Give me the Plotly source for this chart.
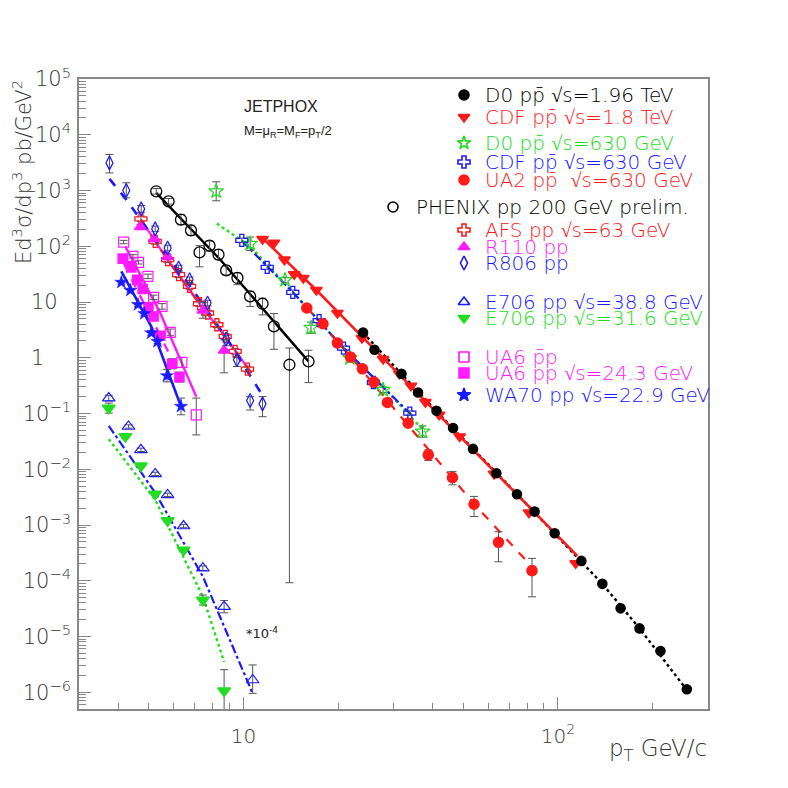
import plotly.graph_objects as go

# ------------------------------------------------------------------ data
# D0 p pbar sqrt(s)=1.96 TeV
d0_196_pt = [24.0, 26.1, 31.8, 35.9, 41.1, 46.4, 53.7, 63.7, 74.1, 84.3, 97.6, 118.7, 138.4, 158.2, 181.7, 211.8, 256.9]
d0_196_xs = [2.84, 1.39, 0.516, 0.238, 0.112, 0.0547, 0.0232, 0.0085, 0.00357, 0.00174, 7.1e-4, 2.27e-4, 8.8e-5, 3.2e-5, 1.40e-5, 5.5e-6, 1.13e-6]
th_d0_196_pt = [24.0, 41.1, 74.1, 138.4, 181.7, 256.9]
th_d0_196_xs = [2.8, 0.11, 0.0036, 8.8e-5, 1.4e-5, 1.1e-6]

# CDF p pbar 1.8 TeV
cdf_18_pt = [11.5, 12.5, 13.5, 14.5, 15.5, 17.05, 19.9, 23.8, 27.8, 31.3, 34.1, 37.9, 41.9, 48.7, 62.6, 80.9, 113.8]
cdf_18_xs = [135, 115, 57.5, 31.5, 27, 16.4, 6.35, 2.26, 0.95, 0.516, 0.314, 0.160, 0.0948, 0.0387, 0.00827, 0.00167, 2.06e-4]
th_cdf_18_pt = [11.5, 17.05, 24.0, 48.7, 115.2]
th_cdf_18_xs = [140, 16.4, 2.3, 0.04, 2.8e-4]

# D0 p pbar 630 GeV
d0_630_pt = [8.19, 10.5, 13.56, 16.4, 21.8, 27.8, 37.1]
d0_630_xs = [968, 111, 24.8, 3.46, 0.99, 0.266, 0.0475]
d0_630_eu = [0.17, 0.12, 0.05, 0.10, 0.05, 0.05, 0.10]
d0_630_ed = [0.17, 0.12, 0.05, 0.10, 0.05, 0.05, 0.10]
th_d0_630_pt = [8.23, 10.5, 14.35, 20.8, 27.8, 37.7]
th_d0_630_xs = [255, 100, 15, 1.5, 0.3, 0.047]

# CDF p pbar 630 GeV
cdf_630_pt = [9.88, 11.9, 14.35, 17.4, 20.8, 25.9, 33.8]
cdf_630_xs = [128, 41.8, 14.9, 4.62, 1.49, 0.36, 0.1016]
th_cdf_630_pt = [9.88, 14.35, 20.8, 34.5]
th_cdf_630_xs = [125, 15, 1.5, 0.09]

# UA2 p pbar 630 GeV
ua2_pt = [15.9, 17.9, 19.9, 21.9, 23.9, 26.0, 28.7, 33.4, 38.7, 46.2, 54.1, 64.7, 82.7]
ua2_xs = [7.8, 4.07, 1.84, 1.03, 0.634, 0.366, 0.158, 0.0673, 0.0181, 0.0071, 0.00236, 4.9e-4, 1.52e-4]
ua2_eu = [0, 0, 0, 0, 0, 0, 0, 0, 0.09, 0.11, 0.14, 0.19, 0.22]
ua2_ed = [0, 0, 0, 0, 0, 0, 0, 0, 0.10, 0.13, 0.22, 0.35, 0.47]
th_ua2_pt = [15.9, 21.9, 28.7, 38.7, 54.1, 81.7]
th_ua2_xs = [8.0, 1.05, 0.17, 0.0223, 0.0024, 1.92e-4]

# PHENIX pp 200 GeV prelim.
phenix_pt = [5.28, 5.78, 6.33, 6.81, 7.25, 7.80, 8.33, 8.81, 9.57, 10.5, 11.5, 12.5, 14.0, 16.1]
phenix_xs = [968, 640, 300, 193, 77.8, 102.6, 70.6, 36.9, 27, 12.6, 9.3, 3.65, 0.75, 0.86]
phenix_eu = [0.05, 0.05, 0.09, 0.09, 0.12, 0.08, 0.09, 0.08, 0.09, 0.09, 0.10, 0.23, 0.30, 0.20]
phenix_ed = [0.05, 0.05, 0.09, 0.09, 0.26, 0.10, 0.09, 0.08, 0.12, 0.18, 0.20, 0.41, 3.91, 0.38]
th_phenix_pt = [5.28, 8.44, 16.1]
th_phenix_xs = [906, 57.4, 0.86]

# AFS pp 63 GeV
afs_pt = [4.72, 5.24, 5.74, 6.22, 6.74, 7.25, 7.69, 8.23, 8.75, 9.41, 10.3]
afs_xs = [309, 122, 57.4, 30.9, 19.1, 9.3, 6.35, 3.91, 2.41, 1.30, 0.627]
th_afs_pt = [4.72, 5.74, 7.25, 8.75, 10.6]
th_afs_xs = [300, 57, 9.3, 2.4, 0.53]

# R110 pp
r110_pt = [4.70, 5.20, 5.74, 7.43, 8.68]
r110_xs = [222, 135, 64.3, 7.06, 1.35]
r110_eu = [0.04, 0.04, 0.05, 0.14, 0.19]
r110_ed = [0.04, 0.04, 0.05, 0.14, 0.40]

# R806 pp
r806_pt = [3.75, 4.24, 4.73, 5.24, 5.74, 6.22, 6.74, 7.69, 8.81, 9.53, 10.5, 11.5]
r806_xs = [3130, 996, 468, 205, 93, 40.7, 25.1, 9.6, 2.17, 0.92, 0.171, 0.149]
r806_eu = [0.15, 0.14, 0.06, 0.05, 0.05, 0.05, 0.05, 0.05, 0.06, 0.06, 0.07, 0.13]
r806_ed = [0.18, 0.13, 0.06, 0.05, 0.05, 0.05, 0.05, 0.05, 0.12, 0.12, 0.17, 0.23]
th_r806_pt = [3.75, 4.24, 5.24, 6.74, 8.81, 11.57]
th_r806_xs = [1615, 687, 130, 20, 2.3, 0.20]

# E706 pp 38.8 GeV (x 1e-4)
e706_388_pt = [3.73, 4.31, 4.72, 5.24, 5.74, 6.45, 7.43, 8.68, 10.7]
e706_388_xs = [0.189, 0.0585, 0.0223, 0.00826, 0.00347, 9.6e-4, 1.68e-4, 3.43e-5, 1.66e-6]
e706_388_eu = [0.05, 0.03, 0.03, 0.03, 0.03, 0.03, 0.04, 0.11, 0.27]
e706_388_ed = [0.05, 0.03, 0.03, 0.03, 0.03, 0.03, 0.04, 0.11, 0.24]
th_e706_388_pt = [3.73, 5.24, 7.43, 10.7]
th_e706_388_xs = [0.06, 0.0038, 1.19e-4, 9.5e-7]

# E706 pp 31.6 GeV (x 1e-4)
e706_316_pt = [3.73, 4.21, 4.72, 5.24, 5.74, 6.45, 7.43, 8.68]
e706_316_xs = [0.125, 0.0387, 0.0115, 0.00361, 0.0012, 3.57e-4, 4.5e-5, 1.06e-6]
e706_316_eu = [0.09, 0.03, 0.03, 0.03, 0.03, 0.03, 0.09, 0.38]
e706_316_ed = [0.09, 0.03, 0.03, 0.03, 0.03, 0.03, 0.09, 1.00]
th_e706_316_pt = [3.73, 5.24, 7.43, 8.68]
th_e706_316_xs = [0.0347, 0.00283, 5.2e-5, 3.5e-6]

# UA6 pbar p
ua6_pbp_pt = [4.16, 4.45, 4.64, 4.97, 5.18, 5.51, 5.85, 6.37, 7.08]
ua6_pbp_xs = [119, 65.9, 51.4, 28.8, 12.1, 8.34, 2.85, 0.824, 0.0948]
ua6_pbp_eu = [0.03, 0.03, 0.03, 0.04, 0.04, 0.05, 0.06, 0.09, 0.30]
ua6_pbp_ed = [0.03, 0.03, 0.03, 0.04, 0.04, 0.05, 0.06, 0.09, 0.36]
th_ua6_pbp_pt = [4.21, 5.44, 7.08]
th_ua6_pbp_xs = [99.6, 6.35, 0.2]

# UA6 pp 24.3 GeV
ua6_pp_pt = [4.13, 4.40, 4.59, 4.78, 4.99, 5.18, 5.44, 5.93, 6.26]
ua6_pp_xs = [59.9, 41.8, 25.1, 17.1, 8.0, 5.51, 2.48, 0.78, 0.45]
ua6_pp_e = [0.03, 0.03, 0.03, 0.03, 0.04, 0.04, 0.05, 0.09, 0.09]
th_ua6_pp_pt = [4.16, 5.12, 6.33]
th_ua6_pp_xs = [50, 4.8, 0.45]

# WA70 pp 22.9 GeV
wa70_pt = [4.09, 4.37, 4.62, 4.84, 5.09, 5.33, 5.71, 6.33]
wa70_xs = [22.5, 16.2, 8.95, 6.17, 2.78, 1.96, 0.475, 0.134]
wa70_e = [0.03, 0.03, 0.03, 0.03, 0.04, 0.04, 0.11, 0.15]
th_wa70_pt = [4.09, 5.09, 6.33]
th_wa70_xs = [35.4, 3.65, 0.134]

y_tick_vals = [1e-6, 1e-5, 1e-4, 1e-3, 1e-2, 1e-1, 1, 10, 1e2, 1e3, 1e4, 1e5]
y_tick_text = ["10<sup>−6</sup>", "10<sup>−5</sup>", "10<sup>−4</sup>", "10<sup>−3</sup>",
               "10<sup>−2</sup>", "10<sup>−1</sup>", "1\u00a0\u00a0\u00a0\u00a0", "10\u00a0\u00a0",
               "10<sup>2</sup>", "10<sup>3</sup>", "10<sup>4</sup>", "10<sup>5</sup>"]
x_tick_vals = [10, 100]
x_tick_text = ["10", "10<sup>2</sup>"]

# ------------------------------------------------------------------ style / layout geometry
BLACK = "#000000"
RED = "#ff1a1a"
GREEN = "#22dd22"
BLUE = "#1a1aff"
MAG = "#ff1aff"
ERRC = "#555555"
FONT = "DejaVu Sans"
THIN = 300

PAGE_OFF = 8                       # default body margin of the html page
FIG = 772
PLOT_L, PLOT_R, PLOT_T, PLOT_B = 79, 708, 79, 709   # plot area in page pixels
ML = PLOT_L - PAGE_OFF
MT = PLOT_T - PAGE_OFF
MR = FIG - (PLOT_R - PAGE_OFF)
MB = FIG - (PLOT_B - PAGE_OFF)


def px_x(px):
    return (px - PLOT_L) / (PLOT_R - PLOT_L)


def px_y(py):
    return (PLOT_B - py) / (PLOT_B - PLOT_T)


def err_arrays(vals, up, dn):
    plus = [v * (10 ** u - 1) for v, u in zip(vals, up)]
    minus = [v * (1 - 10 ** (-d)) for v, d in zip(vals, dn)]
    return plus, minus


fig = go.Figure()


def theory(xs, ys, color, dash, width=2.2):
    fig.add_trace(go.Scatter(x=xs, y=ys, mode="lines", showlegend=False,
                             line=dict(color=color, dash=dash, width=width),
                             hoverinfo="skip"))


def data(xs, ys, symbol, color, size=10, up=None, dn=None, lw=1.6):
    kw = {}
    if up is not None:
        plus, minus = err_arrays(ys, up, dn if dn is not None else up)
        kw["error_y"] = dict(type="data", symmetric=False, array=plus, arrayminus=minus,
                             color=ERRC, thickness=1, width=4)
    fig.add_trace(go.Scatter(x=xs, y=ys, mode="markers", showlegend=False,
                             marker=dict(symbol=symbol, color=color, size=size,
                                         line=dict(color=color, width=lw)),
                             **kw))


# theory curves
theory(th_d0_196_pt, th_d0_196_xs, BLACK, "dot", 2.4)
theory(th_cdf_18_pt, th_cdf_18_xs, RED, "solid", 2.6)
theory(th_d0_630_pt, th_d0_630_xs, GREEN, "dot", 2.4)
theory(th_cdf_630_pt, th_cdf_630_xs, BLUE, "dashdot", 2.2)
theory(th_ua2_pt, th_ua2_xs, RED, "dash", 2.2)
theory(th_phenix_pt, th_phenix_xs, BLACK, "solid", 2.4)
theory(th_afs_pt, th_afs_xs, MAG, "solid", 2.2)
theory(th_afs_pt, th_afs_xs, RED, "dash", 2.2)
theory(th_r806_pt, th_r806_xs, BLUE, "dash", 2.6)
theory(th_e706_388_pt, th_e706_388_xs, BLUE, "dashdot", 2.2)
theory(th_e706_316_pt, th_e706_316_xs, GREEN, "dot", 2.4)
theory(th_ua6_pbp_pt, th_ua6_pbp_xs, MAG, "solid", 2.4)
theory(th_ua6_pp_pt, th_ua6_pp_xs, MAG, "dash", 2.4)
theory(th_wa70_pt, th_wa70_xs, BLUE, "solid", 2.6)

# data points
data(phenix_pt, phenix_xs, "circle-open", BLACK, 11, phenix_eu, phenix_ed, 1.3)
data(afs_pt, afs_xs, "cross-open", RED, 10, [0.05] * len(afs_pt), None, 1.3)
data(r110_pt, r110_xs, "triangle-up", MAG, 10, r110_eu, r110_ed)
data(r806_pt, r806_xs, "diamond-tall-open", BLUE, 10, r806_eu, r806_ed, 1.2)
data(e706_388_pt, e706_388_xs, "triangle-up-open", BLUE, 11, e706_388_eu, e706_388_ed, 1.2)
data(e706_316_pt, e706_316_xs, "triangle-down", GREEN, 11, e706_316_eu, e706_316_ed)
data(ua6_pbp_pt, ua6_pbp_xs, "square-open", MAG, 10, ua6_pbp_eu, ua6_pbp_ed, 1.2)
data(ua6_pp_pt, ua6_pp_xs, "square", MAG, 9, ua6_pp_e, None)
data(wa70_pt, wa70_xs, "star", BLUE, 10, wa70_e, None, 0.5)
data(d0_630_pt, d0_630_xs, "star-open", GREEN, 11, d0_630_eu, d0_630_ed, 1.2)
data(cdf_630_pt, cdf_630_xs, "cross-open", BLUE, 10, [0.04] * len(cdf_630_pt), None, 1.3)
data(ua2_pt, ua2_xs, "circle", RED, 10, ua2_eu, ua2_ed)
data(cdf_18_pt, cdf_18_xs, "triangle-down", RED, 10)
data(d0_196_pt, d0_196_xs, "circle", BLACK, 9)

# ------------------------------------------------------------------ legend (drawn by hand)
legend_items = [
    ("circle", BLACK, "D0 pp\u0304 \u221as=1.96 TeV", BLACK),
    ("triangle-down", RED, "CDF pp\u0304 \u221as=1.8 TeV", RED),
    ("star-open", GREEN, "D0 pp\u0304 \u221as=630 GeV", GREEN),
    ("cross-open", BLUE, "CDF pp\u0304 \u221as=630 GeV", BLUE),
    ("circle", RED, "UA2 pp\u0304  \u221as=630 GeV", RED),
    ("circle-open", BLACK, "PHENIX pp 200 GeV prelim.", BLACK),
    ("cross-open", RED, "AFS pp \u221as=63 GeV", RED),
    ("triangle-up", MAG, "R110 pp", MAG),
    ("diamond-tall-open", BLUE, "R806 pp", BLUE),
    ("triangle-up-open", BLUE, "E706 pp \u221as=38.8 GeV", BLUE),
    ("triangle-down", GREEN, "E706 pp \u221as=31.6 GeV", GREEN),
    ("square-open", MAG, "UA6 p\u0304p", MAG),
    ("square", MAG, "UA6 pp \u221as=24.3 GeV", MAG),
    ("star", BLUE, "WA70 pp \u221as=22.9 GeV", BLUE),
]
legend_row_py = [95, 117, 143, 162, 180, 207, 230, 247, 263, 302, 318, 357, 373, 395]
legend_marker_px = [464] * 5 + [393] + [464] * 8
legend_text_px = [483] * 5 + [414] + [483] * 8

annotations = []
for (sym, col, txt, tcol), py, mx, tx in zip(legend_items, legend_row_py, legend_marker_px, legend_text_px):
    fig.add_trace(go.Scatter(x=[px_x(mx)], y=[px_y(py)], xaxis="x2", yaxis="y2",
                             mode="markers", showlegend=False, hoverinfo="skip",
                             marker=dict(symbol=sym, color=col, size=10,
                                         line=dict(color=col, width=1.6))))
    annotations.append(dict(x=px_x(tx), y=px_y(py), xref="paper", yref="paper",
                            text=txt, showarrow=False, xanchor="left", yanchor="middle",
                            font=dict(family=FONT, size=20, color=tcol, weight=THIN)))

annotations += [
    dict(x=px_x(242), y=px_y(107), xref="paper", yref="paper", text="JETPHOX",
         showarrow=False, xanchor="left", yanchor="middle",
         font=dict(family="Liberation Sans", size=16, color="#222")),
    dict(x=px_x(242), y=px_y(131), xref="paper", yref="paper",
         text="M=\u03bc<sub>R</sub>=M<sub>F</sub>=p<sub>T</sub>/2",
         showarrow=False, xanchor="left", yanchor="middle",
         font=dict(family="Liberation Sans", size=13, color="#222")),
    dict(x=px_x(244), y=px_y(633), xref="paper", yref="paper", text="*10<sup>-4</sup>",
         showarrow=False, xanchor="left", yanchor="middle",
         font=dict(family=FONT, size=13, color="#222")),
    dict(x=px_x(709), y=px_y(750), xref="paper", yref="paper", text="p<sub>T</sub> GeV/c",
         showarrow=False, xanchor="right", yanchor="middle",
         font=dict(family=FONT, size=23, color="#333", weight=THIN)),
    dict(x=px_x(22), y=px_y(78), xref="paper", yref="paper",
         text="Ed<sup>3</sup>\u03c3/dp<sup>3</sup> pb/GeV<sup>2</sup>",
         showarrow=False, textangle=-90, xanchor="center", yanchor="top",
         font=dict(family=FONT, size=21, color="#333", weight=THIN)),
]

minor_vals = [m * 10 ** e for e in range(-7, 6) for m in range(2, 10)]
minor_x = [m * 10 ** e for e in range(0, 3) for m in range(2, 10)]

AX = "#888888"
fig.update_layout(
    width=FIG, height=FIG,
    margin=dict(l=ML, r=MR, t=MT, b=MB, pad=0),
    paper_bgcolor="white", plot_bgcolor="white",
    showlegend=False,
    font=dict(family=FONT, color="#333"),
    annotations=annotations,
    xaxis=dict(type="log", range=[0.4771, 2.4771], showgrid=False, zeroline=False,
               showline=True, linecolor=AX, linewidth=1.5, mirror=True,
               ticks="inside", ticklen=12, tickcolor=AX, tickwidth=1,
               tickmode="array", tickvals=x_tick_vals, ticktext=x_tick_text,
               tickfont=dict(family=FONT, size=20, color="#333", weight=THIN), ticklabelstandoff=8,
               minor=dict(ticks="inside", ticklen=6, tickcolor=AX, tickvals=minor_x, showgrid=False)),
    yaxis=dict(type="log", range=[-6.3, 5], showgrid=False, zeroline=False,
               showline=True, linecolor=AX, linewidth=1.5, mirror=True,
               ticks="inside", ticklen=12, tickcolor=AX, tickwidth=1,
               tickmode="array", tickvals=y_tick_vals, ticktext=y_tick_text,
               tickfont=dict(family=FONT, size=21, color="#333", weight=THIN), ticklabelstandoff=2,
               minor=dict(ticks="inside", ticklen=7, tickcolor=AX, tickvals=minor_vals, showgrid=False)),
    xaxis2=dict(range=[0, 1], overlaying="x", visible=False, fixedrange=True),
    yaxis2=dict(range=[0, 1], overlaying="y", visible=False, fixedrange=True),
)

fig.write_html("out.html")
